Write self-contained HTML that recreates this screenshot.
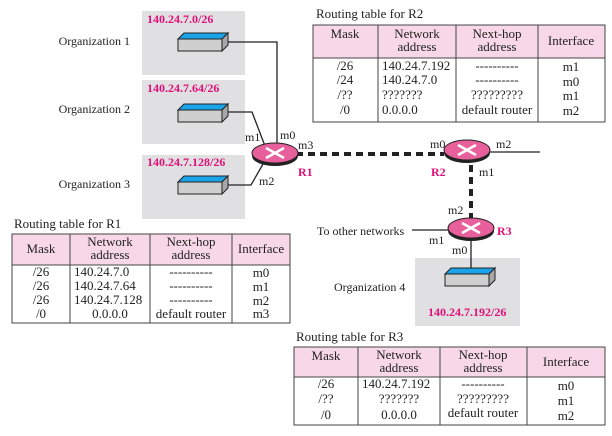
<!DOCTYPE html>
<html><head><style>
html,body{margin:0;padding:0;background:#fff;}
svg{display:block;}
text{font-family:"Liberation Serif",serif;font-size:12px;fill:#222;}
.t text{font-size:13px;}
.p{fill:#e0107a;font-weight:bold;font-size:12px;}
.c{text-anchor:middle;}
</style></head><body>
<svg width="612" height="436" viewBox="0 0 612 436" xmlns="http://www.w3.org/2000/svg">
<defs>
<g id="hub">
<polygon points="0,6 6,0 50,0 44,6" fill="#1aa3e8" stroke="#222" stroke-width="1"/>
<polygon points="0,6 44,6 44,18 0,18" fill="#cfcfcf" stroke="#222" stroke-width="1"/>
<polygon points="44,6 50,0 50,12 44,18" fill="#a8a8a8" stroke="#222" stroke-width="1"/>
</g>
<g id="rt">
<ellipse cx="0" cy="3" rx="23" ry="10" fill="#222"/>
<ellipse cx="0" cy="0" rx="23" ry="10" fill="#e8609b" stroke="#222" stroke-width="1"/>
<path d="M-9,-5 L9,5 M-9,5 L9,-5" stroke="#fff" stroke-width="2.5"/>
</g>
</defs>
<rect x="142" y="11" width="103" height="64" fill="#e0e0e2"/>
<rect x="142" y="80" width="103" height="64" fill="#e0e0e2"/>
<rect x="142" y="155" width="103" height="64" fill="#e0e0e2"/>
<rect x="415" y="258" width="105" height="68" fill="#e0e0e2"/>
<polyline points="226,42 277,42 277,146" fill="none" stroke="#222" stroke-width="1.3"/>
<polyline points="226,112 252,112 265,146" fill="none" stroke="#222" stroke-width="1.3"/>
<polyline points="226,185 251,185 263,164" fill="none" stroke="#222" stroke-width="1.3"/>
<line x1="296" y1="154" x2="444" y2="154" stroke="#222" stroke-width="4" stroke-dasharray="7,5"/>
<line x1="471" y1="165" x2="471" y2="221" stroke="#222" stroke-width="4" stroke-dasharray="7,5"/>
<line x1="489" y1="152" x2="540" y2="152" stroke="#222" stroke-width="1.3"/>
<line x1="412" y1="230" x2="449" y2="230" stroke="#222" stroke-width="1.3"/>
<line x1="471" y1="240" x2="471" y2="268" stroke="#222" stroke-width="1.3"/>
<use href="#hub" x="178" y="33"/>
<use href="#hub" x="178" y="104"/>
<use href="#hub" x="178" y="176"/>
<use href="#hub" x="445" y="268"/>
<use href="#rt" x="275" y="153"/>
<use href="#rt" x="467" y="150"/>
<use href="#rt" x="471" y="228"/>
<text x="130" y="45" text-anchor="end">Organization 1</text>
<text x="130" y="113" text-anchor="end">Organization 2</text>
<text x="130" y="188" text-anchor="end">Organization 3</text>
<text x="334" y="291">Organization 4</text>
<text class="p" x="147" y="23">140.24.7.0/26</text>
<text class="p" x="147" y="92">140.24.7.64/26</text>
<text class="p" x="147" y="166">140.24.7.128/26</text>
<text class="p" x="428" y="316">140.24.7.192/26</text>
<text x="245" y="141">m1</text>
<text x="280" y="139">m0</text>
<text x="298" y="149">m3</text>
<text x="259" y="185">m2</text>
<text class="p" x="298" y="176">R1</text>
<text x="430" y="148">m0</text>
<text x="496" y="148">m2</text>
<text class="p" x="431" y="176">R2</text>
<text x="479" y="176">m1</text>
<text x="448" y="214">m2</text>
<text class="p" x="497" y="235">R3</text>
<text x="429" y="244">m1</text>
<text x="452" y="254">m0</text>
<text x="317" y="235">To other networks</text>

<g class="t">
<text x="316" y="18">Routing table for R2</text>
<rect x="313" y="25" width="292" height="33" fill="#f8d8e8"/>
<rect x="313" y="25" width="292" height="97" fill="none" stroke="#444" stroke-width="1"/>
<line x1="313" y1="58" x2="605" y2="58" stroke="#444"/>
<line x1="378" y1="25" x2="378" y2="122" stroke="#444"/>
<line x1="456" y1="25" x2="456" y2="122" stroke="#444"/>
<line x1="538" y1="25" x2="538" y2="122" stroke="#444"/>
<text class="c" x="345" y="38">Mask</text>
<text class="c" x="417" y="38">Network</text><text class="c" x="417" y="51">address</text>
<text class="c" x="497" y="38">Next-hop</text><text class="c" x="497" y="51">address</text>
<text class="c" x="571" y="45">Interface</text>
<text class="c" x="345" y="70">/26</text><text x="382" y="70">140.24.7.192</text><text class="c" x="497" y="70">----------</text><text class="c" x="571" y="71">m1</text>
<text class="c" x="345" y="84">/24</text><text x="382" y="84">140.24.7.0</text><text class="c" x="497" y="84">----------</text><text class="c" x="571" y="86">m0</text>
<text class="c" x="345" y="99">/??</text><text x="382" y="99">???????</text><text class="c" x="497" y="99">?????????</text><text class="c" x="571" y="100">m1</text>
<text class="c" x="345" y="114">/0</text><text x="382" y="114">0.0.0.0</text><text class="c" x="497" y="114">default router</text><text class="c" x="571" y="115">m2</text>

<text x="14" y="228">Routing table for R1</text>
<rect x="12" y="234" width="278" height="31" fill="#f8d8e8"/>
<rect x="12" y="234" width="278" height="89" fill="none" stroke="#444"/>
<line x1="12" y1="265" x2="290" y2="265" stroke="#444"/>
<line x1="70" y1="234" x2="70" y2="323" stroke="#444"/>
<line x1="150" y1="234" x2="150" y2="323" stroke="#444"/>
<line x1="232" y1="234" x2="232" y2="323" stroke="#444"/>
<text class="c" x="41" y="253">Mask</text>
<text class="c" x="110" y="246">Network</text><text class="c" x="110" y="259">address</text>
<text class="c" x="191" y="246">Next-hop</text><text class="c" x="191" y="259">address</text>
<text class="c" x="261" y="253">Interface</text>
<text class="c" x="41" y="276">/26</text><text x="74" y="276">140.24.7.0</text><text class="c" x="191" y="276">----------</text><text class="c" x="261" y="277">m0</text>
<text class="c" x="41" y="290">/26</text><text x="74" y="290">140.24.7.64</text><text class="c" x="191" y="290">----------</text><text class="c" x="261" y="291">m1</text>
<text class="c" x="41" y="304">/26</text><text x="74" y="304">140.24.7.128</text><text class="c" x="191" y="304">----------</text><text class="c" x="261" y="305">m2</text>
<text class="c" x="41" y="318">/0</text><text class="c" x="110" y="318">0.0.0.0</text><text class="c" x="191" y="318">default router</text><text class="c" x="261" y="318">m3</text>

<text x="296" y="341">Routing table for R3</text>
<rect x="294" y="347" width="311" height="30" fill="#f8d8e8"/>
<rect x="294" y="347" width="311" height="78" fill="none" stroke="#444"/>
<line x1="294" y1="377" x2="605" y2="377" stroke="#444"/>
<line x1="358" y1="347" x2="358" y2="425" stroke="#444"/>
<line x1="440" y1="347" x2="440" y2="425" stroke="#444"/>
<line x1="527" y1="347" x2="527" y2="425" stroke="#444"/>
<text class="c" x="326" y="360">Mask</text>
<text class="c" x="399" y="359">Network</text><text class="c" x="399" y="372">address</text>
<text class="c" x="483" y="359">Next-hop</text><text class="c" x="483" y="372">address</text>
<text class="c" x="566" y="366">Interface</text>
<text class="c" x="326" y="388">/26</text><text x="362" y="388">140.24.7.192</text><text class="c" x="483" y="388">----------</text><text class="c" x="566" y="390">m0</text>
<text class="c" x="326" y="403">/??</text><text class="c" x="399" y="403">???????</text><text class="c" x="483" y="403">?????????</text><text class="c" x="566" y="405">m1</text>
<text class="c" x="326" y="419">/0</text><text class="c" x="399" y="419">0.0.0.0</text><text class="c" x="483" y="417">default router</text><text class="c" x="566" y="420">m2</text>
</g>
</svg>
</body></html>
